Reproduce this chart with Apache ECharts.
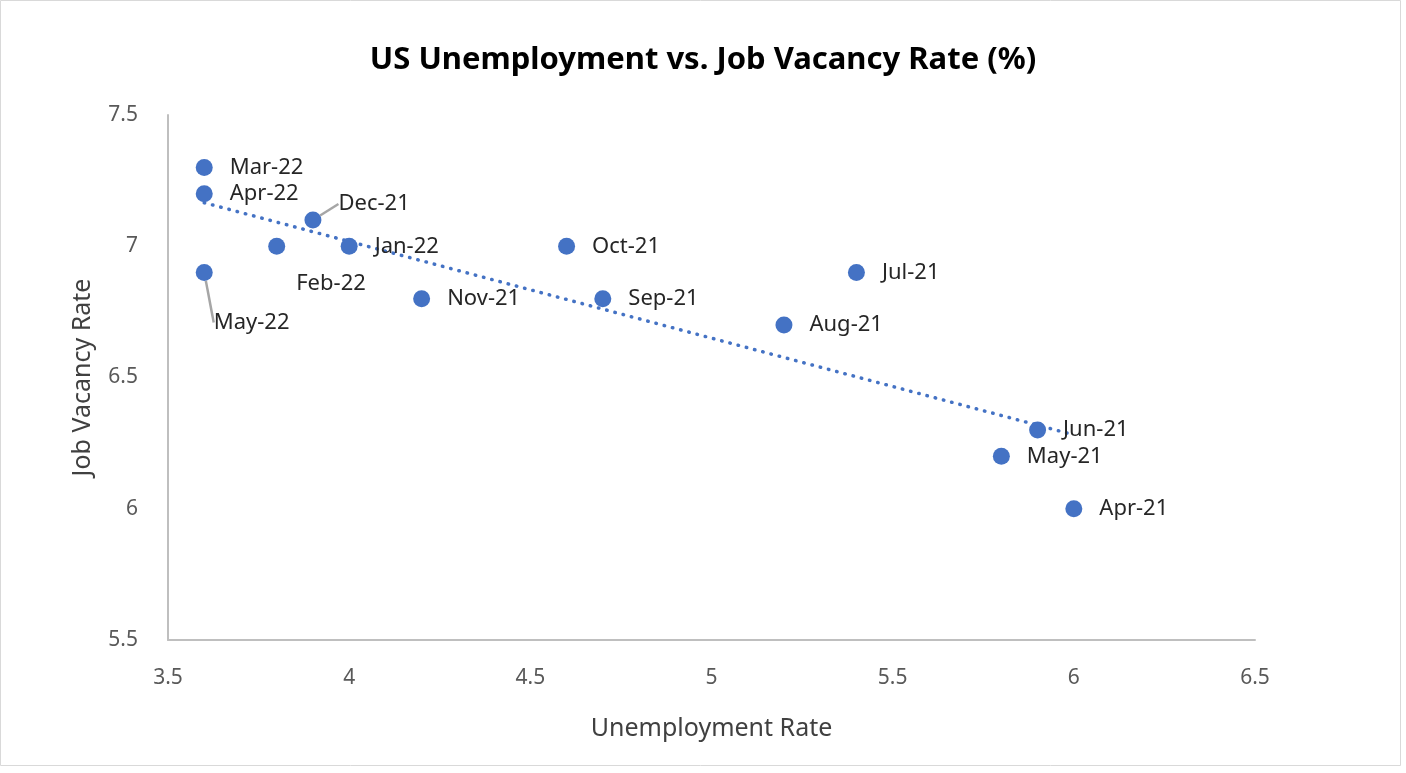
<!DOCTYPE html>
<html>
<head>
<meta charset="utf-8">
<script src="https://cdn.jsdelivr.net/npm/echarts@6/dist/echarts.min.js"></script>
<style>
  html, body { margin: 0; padding: 0; background: #fff; }
  #main { width: 1406px; height: 773px; }
</style>
</head>
<body>
<div id="main"></div>
<script>
var months = ['Apr-21', 'May-21', 'Jun-21', 'Jul-21', 'Aug-21', 'Sep-21', 'Oct-21',
  'Nov-21', 'Dec-21', 'Jan-22', 'Feb-22', 'Mar-22', 'Apr-22', 'May-22'];
var unemployment = [6.0, 5.8, 5.9, 5.4, 5.2, 4.7, 4.6, 4.2, 3.9, 4.0, 3.8, 3.6, 3.6, 3.6];
var vacancy = [6.0, 6.2, 6.3, 6.9, 6.7, 6.8, 7.0, 6.8, 7.1, 7.0, 7.0, 7.3, 7.2, 6.9];

// labels that were moved by hand (pixel nudges), with leader lines on some
var labelMoves = {
  'Dec-21': { dx: 0, dy: -16, line: true },
  'Feb-22': { dx: -6, dy: 37, line: false },
  'May-22': { dx: -16, dy: 50, line: true }
};

var myChart = echarts.init(document.getElementById('main'));

// linear trend line through the data
var n = unemployment.length, mx = 0, my = 0;
for (var i = 0; i < n; i++) { mx += unemployment[i]; my += vacancy[i]; }
mx /= n; my /= n;
var sxy = 0, sxx = 0;
for (var i = 0; i < n; i++) {
  sxy += (unemployment[i] - mx) * (vacancy[i] - my);
  sxx += (unemployment[i] - mx) * (unemployment[i] - mx);
}
var slope = sxy / sxx, icept = my - slope * mx;
var xMin = Math.min.apply(null, unemployment), xMax = Math.max.apply(null, unemployment);
var trend = [[xMin, icept + slope * xMin], [xMax, icept + slope * xMax]];

var points = months.map(function (m, i) {
  var item = { name: m, value: [unemployment[i], vacancy[i]] };
  if (labelMoves[m] && labelMoves[m].line) {
    item.labelLine = { show: true };
  }
  return item;
});

var font = 'Noto Sans';

var option = {
  backgroundColor: '#fff',
  animation: false,
  title: {
    text: 'US Unemployment vs. Job Vacancy Rate (%)',
    left: 'center',
    top: 40,
    textStyle: { fontFamily: font, fontSize: 31, fontWeight: 'bold', color: '#000' }
  },
  grid: { left: 168, right: 151, top: 115, bottom: 133 },
  xAxis: {
    type: 'value',
    min: 3.5, max: 6.5, interval: 0.5,
    name: 'Unemployment Rate',
    nameLocation: 'middle',
    nameGap: 76,
    nameTextStyle: { fontFamily: font, fontSize: 25, color: '#404040' },
    axisLine: { show: true, lineStyle: { color: '#bfbfbf', width: 2 } },
    axisTick: { show: false },
    splitLine: { show: false },
    axisLabel: { fontFamily: font, fontSize: 21, color: '#595959', margin: 28 }
  },
  yAxis: {
    type: 'value',
    min: 5.5, max: 7.5, interval: 0.5,
    name: 'Job Vacancy Rate',
    nameLocation: 'middle',
    nameGap: 73,
    nameRotate: 90,
    nameTextStyle: { fontFamily: font, fontSize: 25, color: '#404040' },
    axisLine: { show: true, lineStyle: { color: '#bfbfbf', width: 2 } },
    axisTick: { show: false },
    splitLine: { show: false },
    axisLabel: { fontFamily: font, fontSize: 21, color: '#595959', margin: 30 }
  },
  series: [
    {
      type: 'line',
      data: trend,
      symbol: 'none',
      silent: true,
      z: 1,
      lineStyle: { color: '#4472C4', width: 3.5, type: [0.5, 8], cap: 'round' }
    },
    {
      type: 'scatter',
      data: points,
      symbolSize: 17,
      z: 2,
      itemStyle: { color: '#4472C4', opacity: 1 },
      label: {
        show: true,
        position: 'right',
        distance: 17,
        formatter: '{b}',
        fontFamily: font,
        fontSize: 22,
        color: '#262626'
      },
      labelLine: { show: false, lineStyle: { color: '#a6a6a6', width: 2.5 } },
      labelLayout: function (params) {
        var mv = labelMoves[months[params.dataIndex]];
        if (!mv) return {};
        return { dx: mv.dx, dy: mv.dy };
      }
    }
  ],
  graphic: [{
    type: 'rect',
    shape: { x: 0.5, y: 0.5, width: 1400, height: 765 },
    style: { fill: 'none', stroke: '#d9d9d9', lineWidth: 1 },
    silent: true
  }]
};

myChart.setOption(option);
</script>
</body>
</html>
